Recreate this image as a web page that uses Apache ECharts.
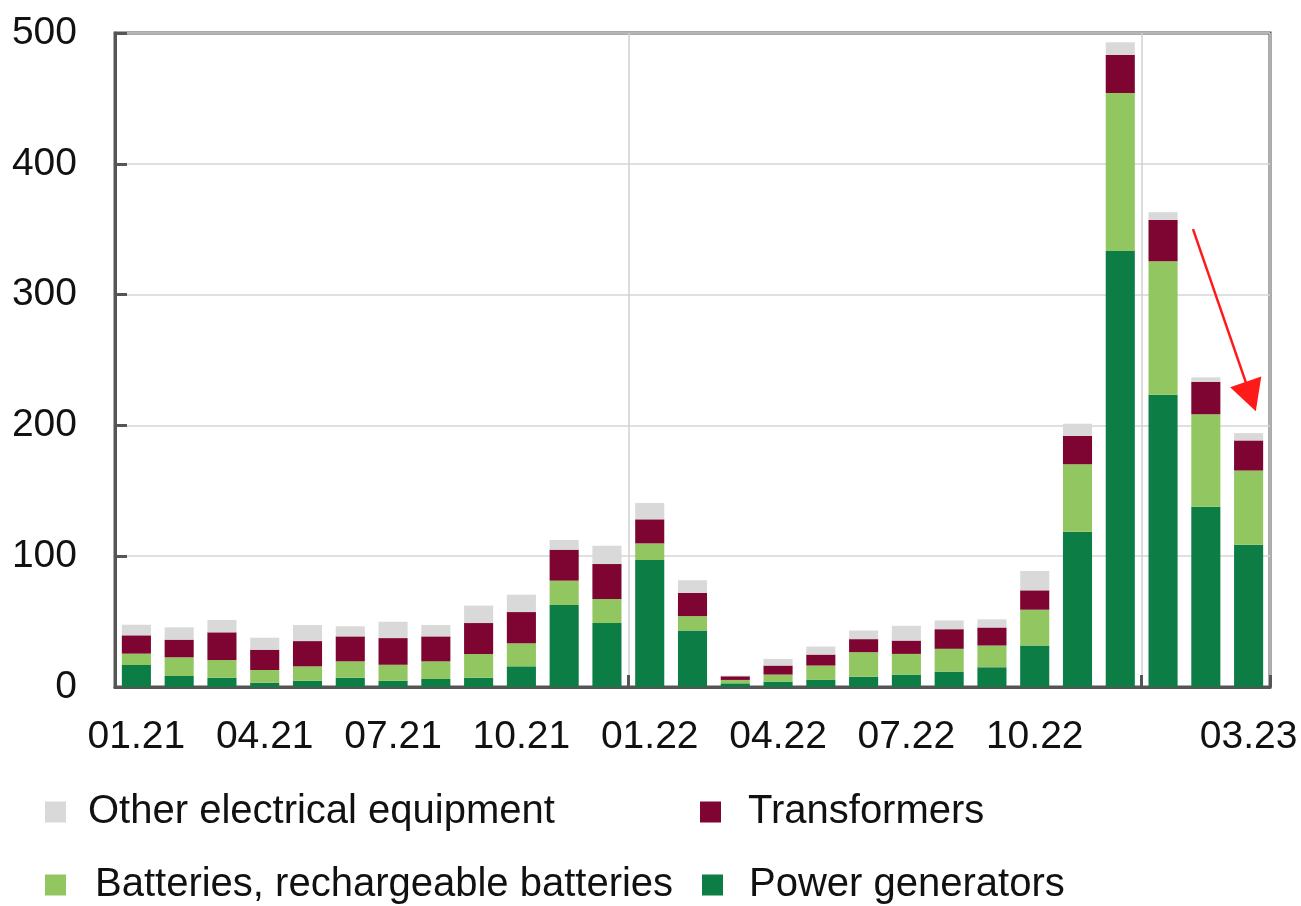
<!DOCTYPE html>
<html>
<head>
<meta charset="utf-8">
<script src="https://cdn.jsdelivr.net/npm/echarts@6/dist/echarts.min.js"></script>
<style>
html,body{margin:0;padding:0;background:#fff;}
#main{width:1301px;height:906px;}
</style>
</head>
<body>
<div id="main"></div>
<script>
const categories = ['01.21','02.21','03.21','04.21','05.21','06.21','07.21','08.21','09.21','10.21','11.21','12.21',
  '01.22','02.22','03.22','04.22','05.22','06.22','07.22','08.22','09.22','10.22','11.22','12.22',
  '01.23','02.23','03.23'];
const xTickLabels = ['01.21','04.21','07.21','10.21','01.22','04.22','07.22','10.22','03.23'];
const yTickLabels = [0, 100, 200, 300, 400, 500];
const yearStartIndex = [12, 24];

const powerGenerators = [16.8, 8.4, 7.1, 3.3, 4.8, 7.1, 4.8, 6.1, 7.1, 15.8, 62.7, 48.9, 97.1, 43.2, 2.8, 4.1, 5.4, 7.9, 9.5, 11.8, 15.1, 31.7, 118.7, 333.4, 223.5, 137.9, 108.7];
const batteries = [8.7, 14.3, 13.5, 9.7, 11.0, 12.5, 12.2, 13.5, 18.1, 17.6, 18.6, 18.4, 12.7, 11.0, 2.6, 5.4, 11.0, 18.7, 15.8, 17.4, 16.6, 27.4, 51.6, 120.7, 102.0, 70.6, 56.8];
const transformers = [14.0, 13.5, 21.2, 15.5, 19.3, 19.1, 20.4, 19.1, 23.7, 23.9, 23.7, 26.7, 18.4, 17.7, 2.8, 6.9, 8.4, 10.0, 10.2, 15.0, 13.8, 14.8, 21.7, 29.1, 31.6, 24.9, 23.0];
const otherEquipment = [8.1, 9.4, 9.4, 9.2, 12.3, 7.7, 12.5, 8.7, 13.3, 13.3, 7.4, 14.0, 12.5, 9.7, 0.5, 5.1, 6.1, 6.6, 11.3, 6.7, 6.2, 14.8, 9.3, 9.7, 5.9, 3.3, 5.6];

// annotation arrow (continuous x position in category units, y value)
const arrowStart = [25.2, 350];
const arrowEnd = [26.55, 222];

const colors = {
  gen: '#0b7d45',
  batt: '#92c661',
  trans: '#7e0531',
  other: '#d9d9d9'
};

const chart = echarts.init(document.getElementById('main'), null, {renderer: 'canvas'});
const labelFont = 'Liberation Sans, Arial, sans-serif';
const legendFont = 'Liberation Sans, Arial, sans-serif';

function legendAt(name, left, top, padLeft) {
  return {
    data: [name], left: left, top: top, orient: 'horizontal',
    icon: 'rect', itemWidth: 21, itemHeight: 21, padding: 0,
    selectedMode: false,
    textStyle: {fontFamily: legendFont, fontSize: 40, color: '#111', padding: [0, 0, 0, padLeft]}
  };
}

const option = {
  animation: false,
  backgroundColor: '#fff',
  grid: {left: 115, right: 31, top: 33, bottom: 219, show: true, borderColor: '#555', borderWidth: 3, backgroundColor: 'transparent'},
  legend: [
    legendAt('Other electrical equipment', 45, 792, 17),
    legendAt('Transformers', 700, 792, 22),
    legendAt('Batteries, rechargeable batteries', 45, 865, 24),
    legendAt('Power generators', 702, 865, 21)
  ],
  xAxis: [{
    type: 'category',
    data: categories,
    boundaryGap: true,
    axisLine: {show: true, lineStyle: {color: '#555', width: 3}},
    axisTick: {show: true, inside: true, length: 12, lineStyle: {color: '#555', width: 3},
      interval: function (i) { return yearStartIndex.indexOf(i) >= 0; }},
    splitLine: {show: true, lineStyle: {color: '#cfcfcf', width: 1.5},
      interval: function (i) { return yearStartIndex.indexOf(i) >= 0; }},
    axisLabel: {
      interval: function (i, v) { return xTickLabels.indexOf(v) >= 0; },
      fontFamily: labelFont, fontSize: 39, color: '#111', margin: 31
    }
  }, {
    type: 'value', min: 0, max: categories.length, show: false
  }],
  yAxis: {
    type: 'value', min: 0, max: 500, interval: 100,
    axisLine: {show: true, lineStyle: {color: '#555', width: 3}},
    axisTick: {show: true, inside: true, length: 12, lineStyle: {color: '#555', width: 3}},
    splitLine: {show: true, lineStyle: {color: '#d6d6d6', width: 1.5}},
    axisLabel: {
      fontFamily: labelFont, fontSize: 39, color: '#111', margin: 38,
      formatter: function (v) { return yTickLabels.indexOf(v) >= 0 ? String(v) : ''; }
    }
  },
  series: [
    {name: 'Power generators', type: 'bar', stack: 'total', data: powerGenerators, barWidth: '68%', itemStyle: {color: colors.gen}},
    {name: 'Batteries, rechargeable batteries', type: 'bar', stack: 'total', data: batteries, barWidth: '68%', itemStyle: {color: colors.batt}},
    {name: 'Transformers', type: 'bar', stack: 'total', data: transformers, barWidth: '68%', itemStyle: {color: colors.trans}},
    {name: 'Other electrical equipment', type: 'bar', stack: 'total', data: otherEquipment, barWidth: '68%', itemStyle: {color: colors.other}},
    {
      name: 'arrow', type: 'scatter', xAxisIndex: 1, data: [arrowStart, arrowEnd], symbolSize: 0, silent: true,
      markLine: {
        silent: true, animation: false,
        symbol: ['none', 'triangle'], symbolSize: [33, 31],
        label: {show: false},
        lineStyle: {color: '#ff1a1a', width: 2.5, type: 'solid'},
        data: [[{coord: arrowStart}, {coord: arrowEnd}]]
      }
    }
  ]
};
chart.setOption(option);
</script>
</body>
</html>
